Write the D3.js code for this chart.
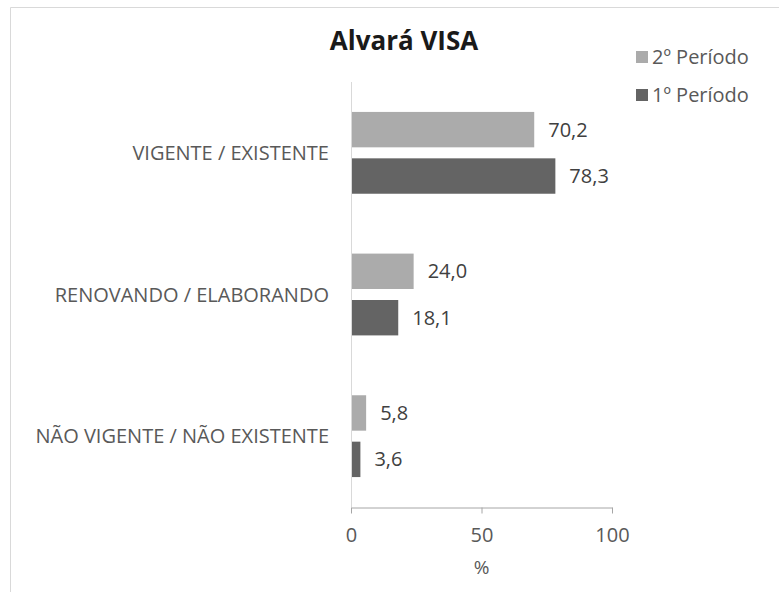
<!DOCTYPE html>
<html lang="pt">
<head>
  <meta charset="UTF-8">
  <title>Alvará VISA</title>
  <script src="https://d3js.org/d3.v7.min.js"></script>
  <style>
    body { margin: 0; background: #fff; }
    svg { font-family: "Open Sans", "DejaVu Sans", sans-serif; }
  </style>
</head>
<body>
  <div id="chart"></div>
  <script>
    // dados
    const categorias = ["VIGENTE / EXISTENTE", "RENOVANDO / ELABORANDO", "NÃO VIGENTE / NÃO EXISTENTE"];
    const periodos = ["2º Período", "1º Período"];
    const segundoPeriodo = [70.2, 24.0, 5.8];
    const primeiroPeriodo = [78.3, 18.1, 3.6];
    const ticksX = [0, 50, 100];
    const cores = ["#ababab", "#646464"];

    const width = 779, height = 592;
    const svg = d3.select("#chart").append("svg")
      .attr("width", width)
      .attr("height", height);

    // moldura
    svg.append("path")
      .attr("d", `M10.5,${height} V7.5 H${width}`)
      .attr("fill", "none")
      .attr("stroke", "#d9d9d9");

    const x = d3.scaleLinear().domain([0, 100]).range([351, 612]);
    const y = d3.scaleBand().domain(categorias).range([82, 507]);
    const ySub = d3.scaleBand().domain(periodos).range([0, y.bandwidth()])
      .paddingInner(0.237).paddingOuter(0.645);

    const series = [segundoPeriodo, primeiroPeriodo];

    // título
    svg.append("text")
      .attr("x", 404).attr("y", 50)
      .attr("text-anchor", "middle")
      .attr("font-size", 26).attr("font-weight", "bold")
      .attr("fill", "#1a1a1a")
      .text("Alvará VISA");

    // barras
    periodos.forEach((p, i) => {
      const g = svg.append("g");
      g.selectAll("rect")
        .data(series[i])
        .enter()
        .append("rect")
        .attr("x", x(0))
        .attr("y", (d, j) => y(categorias[j]) + ySub(p))
        .attr("width", d => x(d) - x(0))
        .attr("height", ySub.bandwidth())
        .attr("fill", cores[i]);

      g.selectAll("text")
        .data(series[i])
        .enter()
        .append("text")
        .attr("x", d => x(d) + 14)
        .attr("y", (d, j) => y(categorias[j]) + ySub(p) + ySub.bandwidth() / 2)
        .attr("dy", "0.35em")
        .attr("font-size", 20)
        .attr("fill", "#404040")
        .text(d => d.toFixed(1).replace(".", ","));
    });

    // eixo vertical
    svg.append("line")
      .attr("x1", x(0) + 0.5).attr("x2", x(0) + 0.5)
      .attr("y1", 82).attr("y2", 507)
      .attr("stroke", "#d9d9d9");

    // rótulos das categorias
    svg.selectAll(".cat")
      .data(categorias)
      .enter()
      .append("text")
      .attr("class", "cat")
      .attr("x", 329)
      .attr("y", d => y(d) + y.bandwidth() / 2)
      .attr("dy", "0.35em")
      .attr("text-anchor", "end")
      .attr("font-size", 20)
      .attr("fill", "#595959")
      .text(d => d);

    // eixo x
    const eixoX = svg.append("g")
      .attr("transform", "translate(0,507.5)")
      .call(d3.axisBottom(x).tickValues(ticksX).tickSize(6).tickPadding(14).tickSizeOuter(0));
    eixoX.select(".domain").attr("stroke", "#a6a6a6");
    eixoX.selectAll(".tick line").attr("stroke", "#a6a6a6");
    eixoX.selectAll(".tick text")
      .attr("font-size", 20)
      .attr("font-family", "Open Sans, DejaVu Sans, sans-serif")
      .attr("fill", "#595959");

    svg.append("text")
      .attr("x", x(50)).attr("y", 574)
      .attr("text-anchor", "middle")
      .attr("font-size", 19)
      .attr("fill", "#595959")
      .text("%");

    // legenda
    const leg = svg.append("g").attr("transform", "translate(636,0)");
    periodos.forEach((p, i) => {
      const yy = 57 + i * 38;
      leg.append("rect")
        .attr("x", 0).attr("y", yy - 6)
        .attr("width", 12).attr("height", 12)
        .attr("fill", cores[i]);
      leg.append("text")
        .attr("x", 16).attr("y", yy)
        .attr("dy", "0.35em")
        .attr("font-size", 20)
        .attr("fill", "#595959")
        .text(p);
    });
  </script>
</body>
</html>
